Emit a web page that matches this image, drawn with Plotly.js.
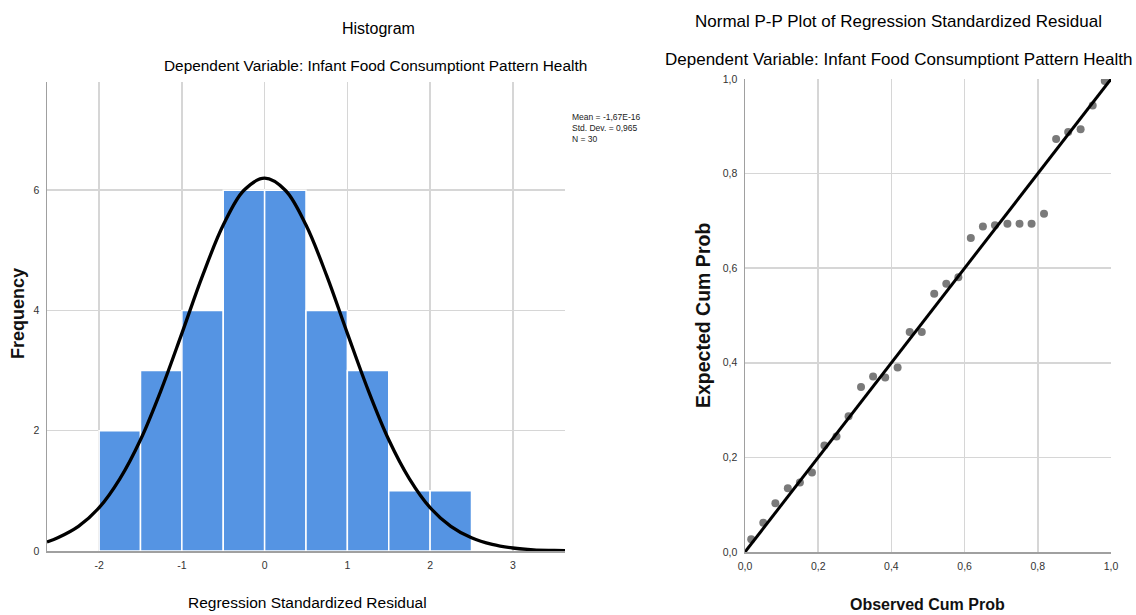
<!DOCTYPE html>
<html>
<head>
<meta charset="utf-8">
<script src="https://cdn.plot.ly/plotly-3.0.1.min.js"></script>
<style>html,body{margin:0;padding:0;background:#fff;}#chart{width:1136px;height:615px;}</style>
</head>
<body>
<div id="chart"></div>
<script>
// ---------- Histogram data ----------
const binStarts = [-2, -1.5, -1, -0.5, 0, 0.5, 1, 1.5, 2];
const binCounts = [2, 3, 4, 6, 6, 4, 3, 1, 1];
const binWidth = 0.5;
// normal curve
const curveX = [-2.63, -2.5, -2.25, -2, -1.75, -1.5, -1.25, -1, -0.75, -0.5, -0.25, 0, 0.25, 0.5, 0.75, 1, 1.25, 1.5, 1.75, 2, 2.25, 2.5, 2.75, 3, 3.25, 3.5, 3.63];
const curveY = [0.15, 0.22, 0.41, 0.72, 1.20, 1.85, 2.68, 3.62, 4.58, 5.42, 6.00, 6.20, 6.00, 5.42, 4.58, 3.62, 2.68, 1.85, 1.20, 0.72, 0.41, 0.22, 0.11, 0.05, 0.02, 0.01, 0.005];
const histXTicks = [-2, -1, 0, 1, 2, 3];
const histXTickText = ['-2', '-1', '0', '1', '2', '3'];
const histYTicks = [0, 2, 4, 6];
const statsLines = ['Mean = -1,67E-16', 'Std. Dev. = 0,965', 'N = 30'];

// ---------- P-P plot data ----------
const observedCum = [0.017, 0.050, 0.083, 0.117, 0.150, 0.183, 0.217, 0.250, 0.283, 0.317,
                     0.350, 0.383, 0.417, 0.450, 0.483, 0.517, 0.550, 0.583, 0.617, 0.650,
                     0.683, 0.717, 0.750, 0.783, 0.817, 0.850, 0.883, 0.917, 0.950, 0.983];
const expectedCum = [0.027, 0.062, 0.103, 0.135, 0.147, 0.168, 0.225, 0.244, 0.287, 0.349,
                     0.371, 0.369, 0.390, 0.465, 0.465, 0.546, 0.567, 0.581, 0.664, 0.688,
                     0.691, 0.694, 0.694, 0.694, 0.715, 0.873, 0.888, 0.894, 0.944, 0.996];
const refLine = [0, 1];
const ppTicks = [0, 0.2, 0.4, 0.6, 0.8, 1.0];
const ppTickText = ['0,0', '0,2', '0,4', '0,6', '0,8', '1,0'];

const W = 1136, H = 615;
const fx = x => x / W;
const fy = y => 1 - y / H;
const NARROW = 'Liberation Sans Narrow, Arial Narrow, sans-serif';
const SANS = 'Liberation Sans, Arial, sans-serif';

const traces = [
  {
    type: 'bar', x: binStarts, y: binCounts, width: binWidth, offset: 0,
    marker: {color: '#5594e3', line: {color: '#ffffff', width: 1.5}},
    xaxis: 'x', yaxis: 'y', hoverinfo: 'skip'
  },
  {
    type: 'scatter', mode: 'lines', x: curveX, y: curveY,
    line: {color: '#000000', width: 3.3, shape: 'spline'},
    xaxis: 'x', yaxis: 'y', hoverinfo: 'skip'
  },
  {
    type: 'scatter', mode: 'markers', x: observedCum, y: expectedCum,
    marker: {color: '#7a7a7a', size: 8},
    xaxis: 'x2', yaxis: 'y2', hoverinfo: 'skip'
  },
  {
    type: 'scatter', mode: 'lines', x: refLine, y: refLine,
    line: {color: '#000000', width: 3},
    xaxis: 'x2', yaxis: 'y2', hoverinfo: 'skip'
  }
];

const tickFont = {family: NARROW, size: 10.5, color: '#333333'};
const axisCommon = {
  showline: true, linecolor: '#a0a0a0', linewidth: 1.5,
  showgrid: true, gridcolor: '#d6d6d6', gridwidth: 1.5,
  zeroline: false, ticks: '', tickfont: tickFont, fixedrange: true,
  ticklabelstandoff: 4
};

const annotations = [
  {text: 'Histogram', x: fx(378), y: fy(28), font: {family: NARROW, size: 16, color: '#000'}},
  {text: 'Dependent Variable: Infant Food Consumptiont Pattern Health', x: fx(375), y: fy(66), font: {family: NARROW, size: 15.4, color: '#000'}},
  {text: 'Regression Standardized Residual', x: fx(307), y: fy(602), font: {family: NARROW, size: 15.5, color: '#000'}},
  {text: '<b>Frequency</b>', x: fx(18), y: fy(314), textangle: -90, font: {family: SANS, size: 18, color: '#111'}},
  {text: 'Normal P-P Plot of Regression Standardized Residual', x: fx(898), y: fy(21), font: {family: NARROW, size: 17, color: '#000'}},
  {text: 'Dependent Variable: Infant Food Consumptiont Pattern Health', x: fx(898), y: fy(60), font: {family: NARROW, size: 17, color: '#000'}},
  {text: '<b>Observed Cum Prob</b>', x: fx(927), y: fy(604), font: {family: NARROW, size: 16, color: '#111'}},
  {text: '<b>Expected Cum Prob</b>', x: fx(703), y: fy(316), textangle: -90, font: {family: SANS, size: 19.5, color: '#111'}}
].map(a => Object.assign({xref: 'paper', yref: 'paper', showarrow: false, xanchor: 'center', yanchor: 'middle'}, a));

statsLines.forEach((t, i) => {
  annotations.push({text: t, xref: 'paper', yref: 'paper', x: fx(570), y: fy(117 + i * 11),
    xanchor: 'left', yanchor: 'middle', showarrow: false,
    font: {family: NARROW, size: 8.5, color: '#222'}});
});

const layout = {
  width: W, height: H,
  margin: {l: 0, r: 0, t: 0, b: 0},
  paper_bgcolor: '#ffffff', plot_bgcolor: '#ffffff',
  showlegend: false,
  separators: ',.',
  xaxis: Object.assign({}, axisCommon, {
    domain: [fx(47), fx(565)], range: [-2.63, 3.63],
    tickmode: 'array', tickvals: histXTicks, ticktext: histXTickText, anchor: 'y'
  }),
  yaxis: Object.assign({}, axisCommon, {
    domain: [fy(551), fy(82)], range: [0, 7.8],
    tickmode: 'array', tickvals: histYTicks, anchor: 'x'
  }),
  xaxis2: Object.assign({}, axisCommon, {
    domain: [fx(745), fx(1111)], range: [0, 1],
    tickmode: 'array', tickvals: ppTicks, ticktext: ppTickText, anchor: 'y2'
  }),
  yaxis2: Object.assign({}, axisCommon, {
    domain: [fy(552), fy(79)], range: [0, 1],
    tickmode: 'array', tickvals: ppTicks, ticktext: ppTickText, anchor: 'x2'
  }),
  annotations: annotations
};

Plotly.newPlot('chart', traces, layout, {displayModeBar: false, staticPlot: true});
</script>
</body>
</html>
